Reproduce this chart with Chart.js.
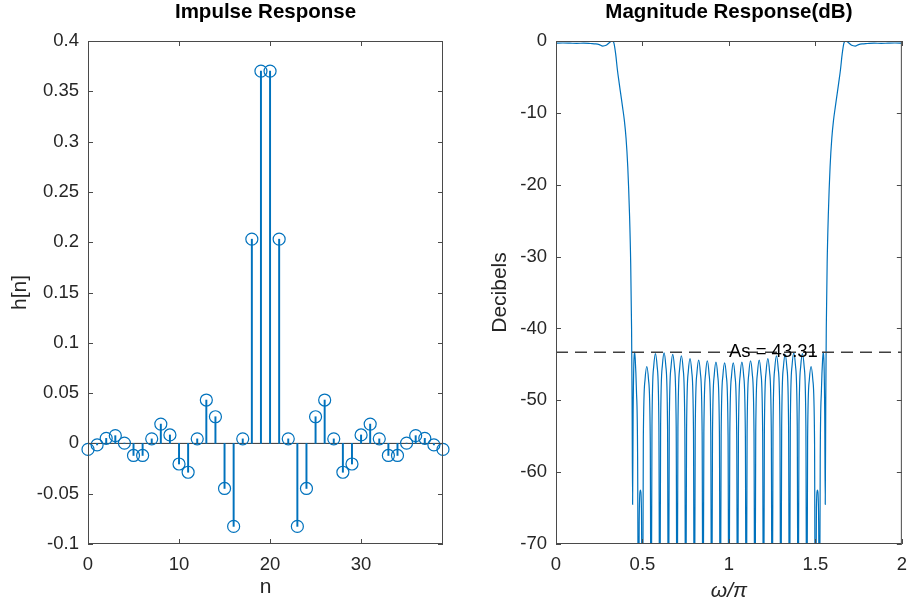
<!DOCTYPE html>
<html>
<head>
<meta charset="utf-8">
<title>Impulse / Magnitude Response</title>
<script src="https://cdn.jsdelivr.net/npm/chart.js@4.4.0/dist/chart.umd.min.js"></script>
<style>
  body { margin: 0; background: #fff; }
  #wrap { position: relative; width: 917px; height: 605px; }
  canvas { position: absolute; top: 0; }
</style>
</head>
<body>
<div id="wrap">
  <canvas id="stem_graph" width="460" height="605" style="left:0px"></canvas>
  <canvas id="mag_graph" width="457" height="605" style="left:460px"></canvas>
</div>
<script>
// ------------------- DATA -------------------------
// impulse response h[n], n = 0..39
var sampleIndex = [0, 1, 2, 3, 4, 5, 6, 7, 8, 9, 10, 11, 12, 13, 14, 15, 16, 17, 18, 19,
  20, 21, 22, 23, 24, 25, 26, 27, 28, 29, 30, 31, 32, 33, 34, 35, 36, 37, 38, 39];
var impulseValues = [-0.006, -0.0015, 0.005, 0.0077, 0.0003, -0.012, -0.012, 0.0045, 0.0192, 0.0084,
  -0.0205, -0.0287, 0.0045, 0.0431, 0.0265, -0.0448, -0.0825, 0.0045, 0.203, 0.37,
  0.37, 0.203, 0.0045, -0.0825, -0.0448, 0.0265, 0.0431, 0.0045, -0.0287, -0.0205,
  0.0084, 0.0192, 0.0045, -0.012, -0.012, 0.0003, 0.0077, 0.005, -0.0015, -0.006];
var stemXTicks = [0, 10, 20, 30];
var stemYTicks = [-0.1, -0.05, 0, 0.05, 0.1, 0.15, 0.2, 0.25, 0.3, 0.35, 0.4];

// magnitude response in dB (omega / pi)
var omegaPoints = [
  0, 0.04, 0.08, 0.12, 0.16, 0.2, 0.23, 0.25, 0.27, 0.29, 0.31, 0.325, 0.335, 0.345, 0.355,
  0.365, 0.375, 0.385, 0.395, 0.405, 0.415, 0.425, 0.432, 0.437, 0.44, 0.443, 0.446, 0.45,
  0.454, 0.458, 0.465, 0.472, 0.477, 0.481, 0.488, 0.494, 0.5,
  0.505, 0.515, 0.525, 0.535, 0.545, 0.55,
  0.555, 0.565, 0.575, 0.585, 0.595, 0.6,
  0.605, 0.615, 0.625, 0.635, 0.645, 0.65,
  0.655, 0.665, 0.675, 0.685, 0.695, 0.7,
  0.705, 0.715, 0.725, 0.735, 0.745, 0.75,
  0.755, 0.765, 0.775, 0.785, 0.795, 0.8,
  0.805, 0.815, 0.825, 0.835, 0.845, 0.85,
  0.855, 0.865, 0.875, 0.885, 0.895, 0.9,
  0.905, 0.915, 0.925, 0.935, 0.945, 0.95,
  0.955, 0.965, 0.975, 0.985, 0.995, 1.0,
  1.005, 1.015, 1.025, 1.035, 1.045, 1.05,
  1.055, 1.065, 1.075, 1.085, 1.095, 1.1,
  1.105, 1.115, 1.125, 1.135, 1.145, 1.15,
  1.155, 1.165, 1.175, 1.185, 1.195, 1.2,
  1.205, 1.215, 1.225, 1.235, 1.245, 1.25,
  1.255, 1.265, 1.275, 1.285, 1.295, 1.3,
  1.305, 1.315, 1.325, 1.335, 1.345, 1.35,
  1.355, 1.365, 1.375, 1.385, 1.395, 1.4,
  1.405, 1.415, 1.425, 1.435, 1.445, 1.45,
  1.455, 1.465, 1.475, 1.485, 1.495, 1.5,
  1.506, 1.512, 1.519, 1.523, 1.528, 1.535, 1.542, 1.546, 1.55, 1.554, 1.557, 1.56, 1.563,
  1.568, 1.575, 1.585, 1.595, 1.605, 1.615, 1.625, 1.635, 1.645, 1.655, 1.665, 1.675, 1.69,
  1.71, 1.73, 1.75, 1.77, 1.8, 1.84, 1.88, 1.92, 1.96, 2.0
];
var magnitudeDb = [
  -0.3, -0.28, -0.3, -0.33, -0.3, -0.35, -0.4, -0.5, -0.7, -0.6, -0.2, 0, -0.3, -1.8, -4,
  -5.8, -7.5, -9.2, -11, -13.5, -17.5, -24, -31, -40, -50, -64.5, -52, -45,
  -43.31, -44.2, -48.5, -58, -90, -67, -62.5, -65, -90,
  -55.3, -47.1, -45.3, -47.1, -55.3, -90,
  -53.5, -45.3, -43.5, -45.3, -53.5, -90,
  -53.4, -45.2, -43.4, -45.2, -53.4, -90,
  -53.6, -45.4, -43.6, -45.4, -53.6, -90,
  -53.8, -45.6, -43.8, -45.6, -53.8, -90,
  -54.2, -46, -44.2, -46, -54.2, -90,
  -54.4, -46.2, -44.4, -46.2, -54.4, -90,
  -54.5, -46.3, -44.5, -46.3, -54.5, -90,
  -54.7, -46.5, -44.7, -46.5, -54.7, -90,
  -54.8, -46.6, -44.8, -46.6, -54.8, -90,
  -54.8, -46.6, -44.8, -46.6, -54.8, -90,
  -54.7, -46.5, -44.7, -46.5, -54.7, -90,
  -54.5, -46.3, -44.5, -46.3, -54.5, -90,
  -54.4, -46.2, -44.4, -46.2, -54.4, -90,
  -54.2, -46, -44.2, -46, -54.2, -90,
  -53.8, -45.6, -43.8, -45.6, -53.8, -90,
  -53.6, -45.4, -43.6, -45.4, -53.6, -90,
  -53.4, -45.2, -43.4, -45.2, -53.4, -90,
  -53.5, -45.3, -43.5, -45.3, -53.5, -90,
  -55.3, -47.1, -45.3, -47.1, -55.3, -90,
  -65, -62.5, -67, -90, -58, -48.5, -44.2, -43.31, -45, -52, -64.5, -50, -40,
  -31, -24, -17.5, -13.5, -11, -9.2, -7.5, -5.8, -4, -1.8, -0.3, 0, -0.2,
  -0.6, -0.7, -0.5, -0.4, -0.35, -0.3, -0.33, -0.3, -0.28, -0.3
];
var magXTicks = [0, 0.5, 1, 1.5, 2];
var magYTicks = [-70, -60, -50, -40, -30, -20, -10, 0];
var stopbandAtten = 43.31;
var attenLabelOmega = 1.0;

// ------------------- STYLE -------------------------
var lineColor = "#0072BD";
var axisColor = "#4a4a4a";
var textColor = "#262626";
var tickFont = { size: 18.5 };
var axisTitleFont = { size: 21 };
var titleFont = { size: 20.5, weight: "bold" };
Chart.defaults.font.family = "'Liberation Sans', Arial, Helvetica, sans-serif";

//plugin that draws the matlab style box with inner ticks
var boxPlugin = {
  id: "boxPlugin",
  afterDatasetsDraw: function(chart) {
    var ctx = chart.ctx;
    var area = chart.chartArea;
    var xScale = chart.scales.x;
    var yScale = chart.scales.y;

    ctx.save();
    ctx.strokeStyle = axisColor;
    ctx.lineWidth = 1;
    ctx.strokeRect(area.left + 0.5, area.top + 0.5, area.right - area.left - 1, area.bottom - area.top - 1);

    ctx.beginPath();
    xScale.ticks.forEach(function(tick) {
      var px = Math.round(xScale.getPixelForValue(tick.value)) + 0.5;
      ctx.moveTo(px, area.bottom);
      ctx.lineTo(px, area.bottom - 5);
      ctx.moveTo(px, area.top);
      ctx.lineTo(px, area.top + 5);
    });
    yScale.ticks.forEach(function(tick) {
      var py = Math.round(yScale.getPixelForValue(tick.value)) + 0.5;
      ctx.moveTo(area.left, py);
      ctx.lineTo(area.left + 5, py);
      ctx.moveTo(area.right, py);
      ctx.lineTo(area.right - 5, py);
    });
    ctx.stroke();
    ctx.restore();
  }
};

//plugin that writes the attenuation label on the dashed line
var attenLabelPlugin = {
  id: "attenLabel",
  afterDatasetsDraw: function(chart) {
    var ctx = chart.ctx;
    var px = chart.scales.x.getPixelForValue(attenLabelOmega);
    var py = chart.scales.y.getPixelForValue(-stopbandAtten);

    ctx.save();
    ctx.font = "18.5px 'Liberation Sans', Arial, sans-serif";
    ctx.fillStyle = "#000";
    ctx.textAlign = "left";
    ctx.textBaseline = "middle";
    ctx.fillText("As = " + stopbandAtten, px, py);
    ctx.restore();
  }
};

printStemGraph();
printMagnitudeGraph();

//function to build the shared axis options
function axisOptions(min, max, tickValues, size, title, titlePadding, titleStyle) {

  var isX = size.height !== undefined;
  return {
    type: "linear",
    min: min,
    max: max,
    offset: false,
    grid: { display: false, drawTicks: false },
    border: { display: false },
    afterBuildTicks: function(scale) {
      scale.ticks = tickValues.map(function(v) { return { value: v }; });
    },
    afterFit: function(scale) {
      if (isX) {
        scale.height = size.height;
      } else {
        scale.width = size.width;
      }
    },
    ticks: {
      color: textColor,
      font: tickFont,
      padding: isX ? 10 : 9,
      maxRotation: 0,
      callback: function(v) { return String(v); }
    },
    title: {
      display: true,
      text: title,
      color: textColor,
      font: { size: axisTitleFont.size, style: titleStyle || "normal" },
      padding: titlePadding
    }
  };
}

//function to print the impulse response (stem plot)
function printStemGraph() {

  var stemPoints = sampleIndex.map(function(n, i) {
    return { x: n, y: impulseValues[i] };
  });
  var baseline = [
    { x: sampleIndex[0], y: 0 },
    { x: sampleIndex[sampleIndex.length - 1], y: 0 }
  ];

  var ctxStem = document.getElementById("stem_graph");
  var stemGraph = new Chart(ctxStem, {
    type: "scatter",
    data: {
      datasets: [
        {
          type: "scatter",
          label: "h[n]",
          data: stemPoints,
          pointStyle: "circle",
          pointRadius: 6,
          pointBorderWidth: 1.2,
          pointBorderColor: lineColor,
          pointBackgroundColor: "rgba(0,0,0,0)",
          clip: false
        },
        {
          type: "bar",
          label: "stem",
          data: stemPoints,
          backgroundColor: lineColor,
          borderWidth: 0,
          barThickness: 1.3
        },
        {
          type: "line",
          label: "baseline",
          data: baseline,
          borderColor: "#333333",
          borderWidth: 1,
          pointRadius: 0
        }
      ]
    },
    plugins: [boxPlugin],
    options: {
      responsive: false,
      animation: false,
      devicePixelRatio: 1,
      events: [],
      layout: { padding: { left: 0, right: 17, top: 0, bottom: 0 } },
      plugins: {
        legend: { display: false },
        tooltip: { enabled: false },
        title: {
          display: true,
          text: "Impulse Response",
          fullSize: false,
          color: "#000",
          font: titleFont,
          padding: { top: 0.5, bottom: 15.9 }
        }
      },
      scales: {
        x: axisOptions(0, 39, stemXTicks, { height: 61 }, "n", { top: 0, bottom: 5 }),
        y: axisOptions(-0.1, 0.4, stemYTicks, { width: 88 }, "h[n]", { top: 7.4, bottom: 0 })
      }
    }
  });
}

//function to print the magnitude response in dB
function printMagnitudeGraph() {

  var magPoints = omegaPoints.map(function(w, i) {
    return { x: w, y: magnitudeDb[i] };
  });
  var attenLine = [
    { x: magXTicks[0], y: -stopbandAtten },
    { x: magXTicks[magXTicks.length - 1], y: -stopbandAtten }
  ];

  var ctxMag = document.getElementById("mag_graph");
  var magGraph = new Chart(ctxMag, {
    type: "line",
    data: {
      datasets: [
        {
          label: "As",
          data: attenLine,
          borderColor: "#404040",
          borderWidth: 1.4,
          borderDash: [12, 7],
          pointRadius: 0
        },
        {
          label: "|H| dB",
          data: magPoints,
          borderColor: lineColor,
          borderWidth: 1.2,
          pointRadius: 0,
          cubicInterpolationMode: "monotone"
        }
      ]
    },
    plugins: [boxPlugin, attenLabelPlugin],
    options: {
      responsive: false,
      animation: false,
      devicePixelRatio: 1,
      events: [],
      layout: { padding: { left: 0, right: 8, top: 0, bottom: 0 } },
      plugins: {
        legend: { display: false },
        tooltip: { enabled: false },
        title: {
          display: true,
          text: "Magnitude Response(dB)",
          fullSize: false,
          color: "#000",
          font: titleFont,
          padding: { top: 0.5, bottom: 15.9 }
        }
      },
      scales: {
        x: axisOptions(0, 2, magXTicks, { height: 61 }, "ω/π", { top: 0, bottom: 1.5 }, "italic"),
        y: axisOptions(-70, 0, magYTicks, { width: 96 }, "Decibels", { top: 27.4, bottom: 0 })
      }
    }
  });
}
</script>
</body>
</html>
